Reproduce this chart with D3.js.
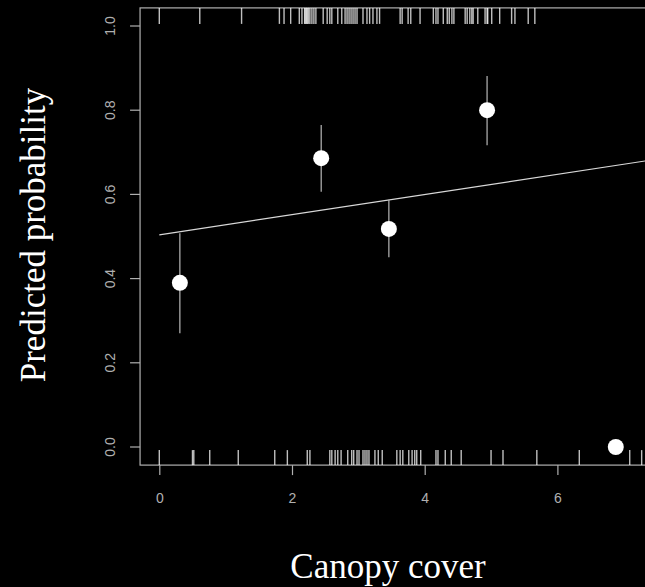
<!DOCTYPE html>
<html>
<head>
<meta charset="utf-8">
<script src="https://cdn.jsdelivr.net/npm/d3@7"></script>
<style>
  body { margin: 0; background: #000; }
</style>
</head>
<body>
<div id="plot"></div>
<script>
// Parameters
const svg_w = 645;
const svg_h = 587;

// Binned means with error bars
const binX = [0.31, 2.44, 3.46, 4.94, 6.88];
const binP = [0.39, 0.686, 0.518, 0.80, 0.0];
const binLo = [0.27, 0.606, 0.451, 0.717, null];
const binHi = [0.508, 0.765, 0.587, 0.881, null];

// Fitted line (intercept, slope)
const fitX = [0, 7.6];
const fitP = [0.504, 0.686];

// Rug: observations with outcome 1 (top) and 0 (bottom)
const rugTop = [0.00, 0.61, 1.24, 1.81, 1.88, 1.98, 2.11, 2.15, 2.19, 2.20, 2.22, 2.23,
  2.25, 2.27, 2.30, 2.33, 2.36, 2.47, 2.53, 2.57, 2.60, 2.69, 2.75, 2.80, 2.83, 2.86,
  2.89, 2.92, 2.95, 2.98, 3.07, 3.13, 3.17, 3.22, 3.28, 3.32, 3.63, 3.66, 3.75, 3.79,
  3.93, 4.13, 4.17, 4.20, 4.28, 4.34, 4.37, 4.41, 4.44, 4.61, 4.64, 4.68, 4.71, 4.73,
  4.80, 4.91, 4.94, 4.95, 5.01, 5.13, 5.31, 5.36, 5.56, 5.66];
const rugBottom = [0.00, 0.50, 0.52, 0.76, 1.19, 1.74, 1.93, 2.23, 2.27, 2.57, 2.60,
  2.65, 2.69, 2.74, 2.84, 2.90, 2.93, 2.98, 3.01, 3.07, 3.10, 3.13, 3.16, 3.25, 3.30,
  3.36, 3.58, 3.63, 3.67, 3.76, 3.81, 3.85, 3.88, 3.94, 4.17, 4.20, 4.31, 4.40, 4.55,
  5.00, 5.18, 5.69, 6.33, 7.09, 7.27];

const xTicks = [0, 2, 4, 6];
const yTicks = [0, 0.2, 0.4, 0.6, 0.8, 1.0];

const xScale = d3.scaleLinear().domain([0, 7]).range([159.3, 159.3 + 66.35 * 7]);
const yScale = d3.scaleLinear().domain([0, 1]).range([447, 26]);

const svg = d3.select("div#plot")
  .append("svg")
    .attr("width", svg_w)
    .attr("height", svg_h);

svg.append("rect")
    .attr("width", svg_w)
    .attr("height", svg_h)
    .attr("fill", "#000");

const axisCol = "#b0b0b0";

// plot box
const boxL = xScale(-0.29), boxR = xScale(7.62);
const boxT = yScale(1.043), boxB = yScale(-0.043);
svg.append("rect")
    .attr("x", boxL)
    .attr("y", boxT)
    .attr("width", boxR - boxL)
    .attr("height", boxB - boxT)
    .attr("fill", "none")
    .attr("stroke", axisCol)
    .attr("stroke-width", 1.2);

// rugs
svg.append("g").selectAll("line")
  .data(rugTop)
  .join("line")
    .attr("x1", d => xScale(d))
    .attr("x2", d => xScale(d))
    .attr("y1", boxT)
    .attr("y2", boxT + 16)
    .attr("stroke", "#fff")
    .attr("stroke-opacity", 0.75)
    .attr("stroke-width", 1.4);

svg.append("g").selectAll("line")
  .data(rugBottom)
  .join("line")
    .attr("x1", d => xScale(d))
    .attr("x2", d => xScale(d))
    .attr("y1", boxB)
    .attr("y2", boxB - 15)
    .attr("stroke", "#fff")
    .attr("stroke-opacity", 0.75)
    .attr("stroke-width", 1.4);

// axes
const xAxis = d3.axisBottom(xScale)
    .tickValues(xTicks)
    .tickSize(10)
    .tickPadding(18)
    .tickFormat(d3.format("d"));
const gx = svg.append("g")
    .attr("transform", `translate(0, ${boxB})`)
    .call(xAxis);
gx.select(".domain").remove();

const yAxis = d3.axisLeft(yScale)
    .tickValues(yTicks)
    .tickSize(10)
    .tickFormat(d3.format(".1f"));
const gy = svg.append("g")
    .attr("transform", `translate(${boxL}, 0)`)
    .call(yAxis);
gy.select(".domain").remove();
gy.selectAll(".tick").attr("transform", null);
gy.selectAll(".tick line")
    .attr("y1", d => yScale(d))
    .attr("y2", d => yScale(d));
gy.selectAll("text")
    .attr("x", 0)
    .attr("y", 0)
    .attr("dy", 0)
    .attr("text-anchor", "middle")
    .attr("dominant-baseline", "central")
    .attr("transform", d => `translate(-30, ${yScale(d)}) rotate(-90)`);

[gx, gy].forEach(g => {
  g.selectAll("line").attr("stroke", axisCol).attr("stroke-width", 1.2);
  g.selectAll("text")
    .attr("fill", axisCol)
    .style("font-family", "'Liberation Sans', Arial, sans-serif")
    .style("font-size", "14px");
});

// fitted line
svg.append("line")
    .attr("x1", xScale(fitX[0]))
    .attr("y1", yScale(fitP[0]))
    .attr("x2", xScale(fitX[1]))
    .attr("y2", yScale(fitP[1]))
    .attr("stroke", "#d8d8d8")
    .attr("stroke-width", 1.2);

// error bars
const bins = binX.map((x, i) => ({x: x, p: binP[i], lo: binLo[i], hi: binHi[i]}));
svg.append("g").selectAll("line")
  .data(bins.filter(d => d.lo != null))
  .join("line")
    .attr("x1", d => xScale(d.x))
    .attr("x2", d => xScale(d.x))
    .attr("y1", d => yScale(d.lo))
    .attr("y2", d => yScale(d.hi))
    .attr("stroke", "#b8b8b8")
    .attr("stroke-width", 1.2);

svg.append("g").selectAll("circle")
  .data(bins)
  .join("circle")
    .attr("cx", d => xScale(d.x))
    .attr("cy", d => yScale(d.p))
    .attr("r", 8)
    .attr("fill", "#fff");

// axis titles
svg.append("text")
    .attr("text-anchor", "middle")
    .attr("transform", `translate(45, 235) rotate(-90)`)
    .attr("fill", "#fff")
    .style("font-family", "'Liberation Serif', 'Times New Roman', serif")
    .style("font-size", "35px")
    .text("Predicted probability");

svg.append("text")
    .attr("text-anchor", "middle")
    .attr("x", 388)
    .attr("y", 578)
    .attr("fill", "#fff")
    .style("font-family", "'Liberation Serif', 'Times New Roman', serif")
    .style("font-size", "35px")
    .text("Canopy cover");
</script>
</body>
</html>
